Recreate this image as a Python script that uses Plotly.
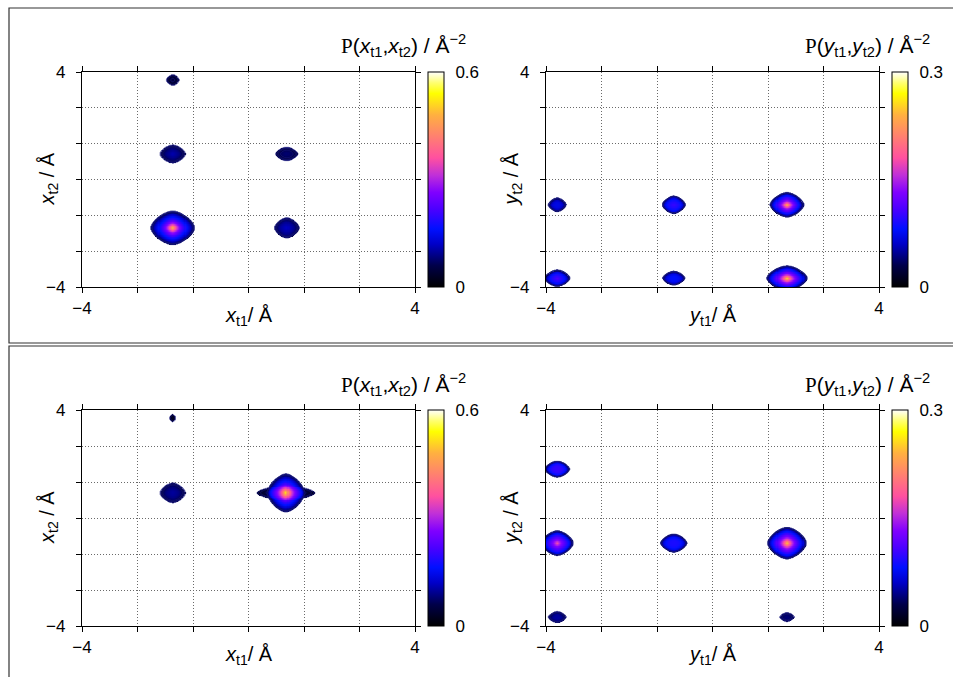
import numpy as np
import plotly.graph_objects as go

W, H = 953, 677

# ---- data: spots (centre, plateau height, peak height, half widths) ----
# top-left panel  P(x_t1, x_t2), scale 0..0.6
TL_CX = [-1.82, 0.92, -1.82, 0.92, -1.82]
TL_CY = [-1.80, -1.80, 0.95, 0.95, 3.70]
TL_PLATEAU = [0.14, 0.10, 0.09, 0.07, 0.05]
TL_PEAK = [0.36, 0.02, 0.02, 0.01, 0.00]
TL_HX = [0.52, 0.29, 0.30, 0.26, 0.15]
TL_HY = [0.62, 0.37, 0.33, 0.25, 0.20]

# top-right panel  P(y_t1, y_t2), scale 0..0.3
TR_CX = [-3.73, -0.93, 1.79, -3.73, -0.93, 1.79]
TR_CY = [-0.94, -0.94, -0.94, -3.67, -3.67, -3.67]
TR_PLATEAU = [0.07, 0.09, 0.09, 0.09, 0.08, 0.09]
TR_PEAK = [0.00, 0.01, 0.15, 0.02, 0.00, 0.17]
TR_HX = [0.21, 0.27, 0.40, 0.30, 0.26, 0.48]
TR_HY = [0.25, 0.32, 0.45, 0.30, 0.25, 0.45]

# bottom-left panel  P(x_t1, x_t2), scale 0..0.6
BL_CX = [0.90, 0.90, -1.82, -1.82]
BL_CY = [0.93, 0.93, 0.93, 3.70]
BL_PLATEAU = [0.14, 0.06, 0.09, 0.03]
BL_PEAK = [0.34, 0.00, 0.01, 0.00]
BL_HX = [0.44, 0.70, 0.30, 0.07]
BL_HY = [0.70, 0.27, 0.36, 0.13]

# bottom-right panel  P(y_t1, y_t2), scale 0..0.3
BR_CX = [-3.73, -3.73, -0.93, 1.79, -3.73, 1.79]
BR_CY = [1.81, -0.93, -0.93, -0.93, -3.67, -3.67]
BR_PLATEAU = [0.10, 0.10, 0.09, 0.09, 0.05, 0.04]
BR_PEAK = [0.00, 0.08, 0.00, 0.16, 0.00, 0.00]
BR_HX = [0.29, 0.38, 0.31, 0.46, 0.21, 0.17]
BR_HY = [0.29, 0.45, 0.33, 0.58, 0.20, 0.16]

ZMAX = [0.6, 0.3, 0.6, 0.3]
CB_TICKS = [["0", "0.6"], ["0", "0.3"], ["0", "0.6"], ["0", "0.3"]]

TICK_VALS = [-4, -8 / 3, -4 / 3, 0, 4 / 3, 8 / 3, 4]
TICK_TEXT = ["\u22124", "", "", "", "", "", "4"]

GRID = np.linspace(-4, 4, 321)

COLORSCALE = [
    [0.00, "#000000"], [0.10, "#00004a"], [0.20, "#0000c8"], [0.27, "#0010ff"],
    [0.36, "#4a00ff"], [0.44, "#8000ff"], [0.52, "#c030d8"], [0.60, "#ff50a0"],
    [0.70, "#ff8070"], [0.80, "#ffb040"], [0.90, "#ffff00"], [0.95, "#ffff70"],
    [1.00, "#ffffff"],
]

SANS = "Liberation Sans, Arial, sans-serif"
SERIF = "Liberation Serif, Times New Roman, serif"


def density(cx, cy, plateau, peak, hx, hy):
    X, Y = np.meshgrid(GRID, GRID)
    Z = np.zeros_like(X)
    for x0, y0, pl, pk, sx, sy in zip(cx, cy, plateau, peak, hx, hy):
        d = ((np.abs(X - x0) / sx) ** 1.6 + (np.abs(Y - y0) / sy) ** 1.6) ** (1 / 1.6)
        window = np.clip(1 - d ** 3, 0, None) ** 0.5
        Z += window * (pl + pk * np.exp(-d / 0.33))
    return Z


panels = [
    (TL_CX, TL_CY, TL_PLATEAU, TL_PEAK, TL_HX, TL_HY),
    (TR_CX, TR_CY, TR_PLATEAU, TR_PEAK, TR_HX, TR_HY),
    (BL_CX, BL_CY, BL_PLATEAU, BL_PEAK, BL_HX, BL_HY),
    (BR_CX, BR_CY, BR_PLATEAU, BR_PEAK, BR_HX, BR_HY),
]

# pixel geometry of the four plot areas
PX_X = [(82, 415), (546, 879), (82, 415), (546, 879)]
PX_Y = [(72, 287), (72, 287), (410, 626), (410, 626)]
CB_X = [428, 892, 428, 892]

fig = go.Figure()
layout = dict(
    template="none",
    width=W, height=H, margin=dict(l=0, r=0, t=0, b=0, autoexpand=False),
    paper_bgcolor="white", plot_bgcolor="white", showlegend=False,
    font=dict(family=SANS, color="black", size=17),
)

annotations = []
shapes = []

for i, p in enumerate(panels):
    Z = density(*p)
    zmax = ZMAX[i]
    thr = 0.004
    Zm = np.where(Z < thr, np.nan, Z)
    sfx = "" if i == 0 else str(i + 1)
    xa, ya = "x" + sfx, "y" + sfx
    x0p, x1p = PX_X[i]
    y0p, y1p = PX_Y[i]
    ymid = 1 - (y0p + y1p) / 2 / H
    fig.add_trace(go.Heatmap(
        x=GRID, y=GRID, z=Zm, zmin=0, zmax=zmax, colorscale=COLORSCALE,
        zsmooth=False, xaxis=xa, yaxis=ya, hoverinfo="skip",
        colorbar=dict(
            x=CB_X[i] / W, xanchor="left", xpad=0, y=ymid, yanchor="middle", ypad=0,
            len=(y1p - y0p), lenmode="pixels", thickness=16, thicknessmode="pixels",
            outlinewidth=1, outlinecolor="black",
            ticks="outside", ticklen=8, tickcolor="rgba(0,0,0,0)",
            tickvals=[0, zmax], ticktext=CB_TICKS[i],
            tickfont=dict(size=17, family=SANS),
        ),
    ))
    fig.add_trace(go.Contour(
        x=GRID, y=GRID, z=Z, xaxis=xa, yaxis=ya, showscale=False, hoverinfo="skip",
        contours=dict(coloring="lines", start=thr, end=zmax * 0.12, size=zmax * 0.025),
        colorscale=[[0, "#16167a"], [1, "#16167a"]], line=dict(width=0.7),
    ))
    axis_common = dict(
        range=[-4, 4], tickvals=TICK_VALS, ticktext=TICK_TEXT, ticks="outside",
        ticklen=5, tickwidth=1, tickcolor="black", showline=True, linecolor="black",
        linewidth=1.3, mirror="ticks", showgrid=True, gridcolor="#6a6a6a",
        griddash="1px,2px", gridwidth=1, zeroline=False, automargin=False,
        tickfont=dict(size=17, family=SANS),
    )
    layout["xaxis" + sfx] = dict(axis_common, domain=[x0p / W, x1p / W], anchor=ya)
    layout["yaxis" + sfx] = dict(axis_common, domain=[1 - y1p / H, 1 - y0p / H], anchor=xa,
                                  ticklabelstandoff=7)

    var = "x" if i in (0, 2) else "y"
    # axis titles
    annotations.append(dict(
        xref="paper", yref="paper", x=(x0p + x1p) / 2 / W, y=1 - (y1p + 29) / H,
        xanchor="center", yanchor="middle", showarrow=False,
        text=f"<i>{var}</i><sub>t1</sub>/ Å", font=dict(size=20),
    ))
    annotations.append(dict(
        xref="paper", yref="paper", x=(x0p - 34) / W, y=ymid,
        xanchor="center", yanchor="middle", showarrow=False, textangle=-90,
        text=f"<i>{var}</i><sub>t2</sub> / Å", font=dict(size=20),
    ))
    # colour bar title
    annotations.append(dict(
        xref="paper", yref="paper", x=(CB_X[i] - 89) / W, y=1 - (y0p - 26) / H,
        xanchor="left", yanchor="middle", showarrow=False,
        text=(f"<span style='font-family:{SERIF}'>P</span>"
              f"(<i>{var}</i><sub>t1</sub>,<i>{var}</i><sub>t2</sub>) / Å<sup>\u22122</sup>"),
        font=dict(size=21),
    ))

# panel frames
for (y0, y1) in [(8, 343), (346, 700)]:
    shapes.append(dict(
        type="rect", xref="paper", yref="paper", x0=9 / W, x1=1.05,
        y0=1 - y1 / H, y1=1 - y0 / H, line=dict(color="#333333", width=1.2),
        fillcolor="rgba(0,0,0,0)", layer="below",
    ))

layout["annotations"] = annotations
layout["shapes"] = shapes
fig.update_layout(**layout)
fig.write_html(
    "out.html",
    config={"displayModeBar": False},
    post_script="document.body.style.margin='0';document.body.style.overflow='hidden';",
)
